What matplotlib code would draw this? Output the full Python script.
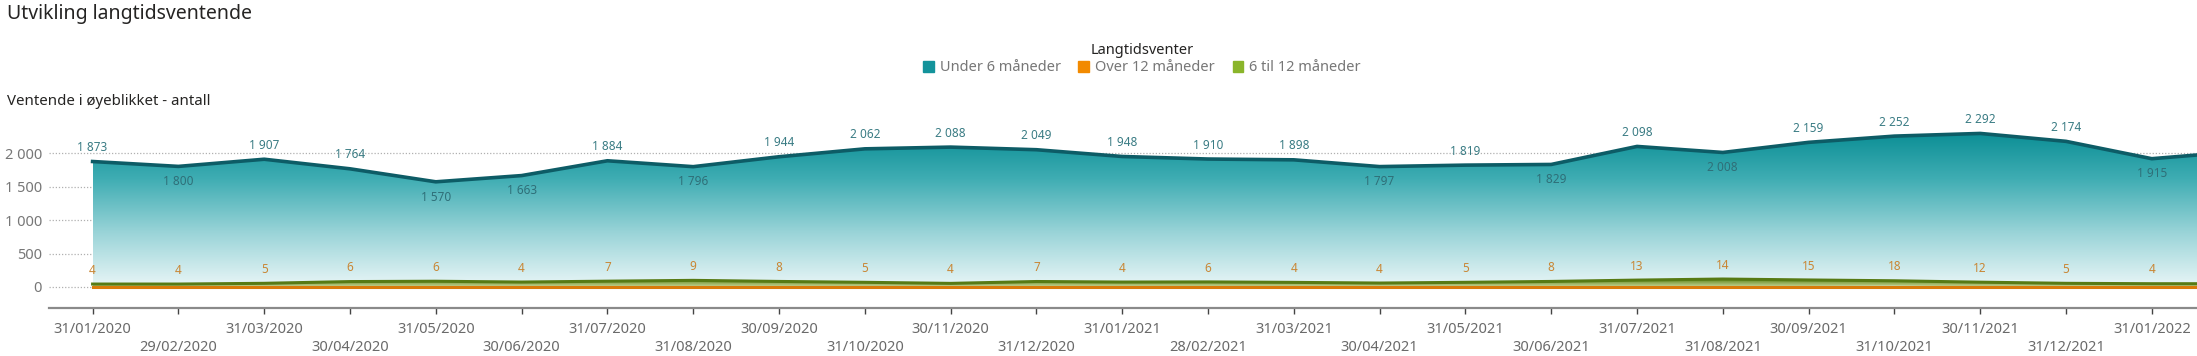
import numpy as np
import matplotlib
matplotlib.use("Agg")
import matplotlib.pyplot as plt
from matplotlib.colors import LinearSegmentedColormap
from matplotlib.patches import Patch

plt.rcParams['font.family'] = ['Noto Sans', 'DejaVu Sans']

# data
dates = ['31/01/2020', '29/02/2020', '31/03/2020', '30/04/2020', '31/05/2020', '30/06/2020',
         '31/07/2020', '31/08/2020', '30/09/2020', '31/10/2020', '30/11/2020', '31/12/2020',
         '31/01/2021', '28/02/2021', '31/03/2021', '30/04/2021', '31/05/2021', '30/06/2021',
         '31/07/2021', '31/08/2021', '30/09/2021', '31/10/2021', '30/11/2021', '31/12/2021',
         '31/01/2022', '28/02/2022']
under_6 = [1873, 1800, 1907, 1764, 1570, 1663, 1884, 1796, 1944, 2062, 2088, 2049,
           1948, 1910, 1898, 1797, 1819, 1829, 2098, 2008, 2159, 2252, 2292, 2174,
           1915, 2020]
over_12 = [4, 4, 5, 6, 6, 4, 7, 9, 8, 5, 4, 7, 4, 6, 4, 4, 5, 8, 13, 14, 15, 18, 12, 5, 4, 4]
# 6-12 months has no labels in the picture, estimated from the band height
six_12 = [40, 40, 50, 75, 80, 70, 80, 90, 75, 65, 50, 75, 70, 70, 65, 55, 65, 75,
          90, 105, 90, 75, 60, 50, 45, 45]
labelled = 25           # last point is outside the visible area
below = [1, 4, 5, 7, 15, 17, 19, 24]   # teal labels drawn under the line

x = np.arange(len(dates))
u6 = np.array(under_6)
o12 = np.array(over_12)
s612 = o12 + np.array(six_12)

W, H = 2197, 356
fig = plt.figure(figsize=(W / 100, H / 100), dpi=100)
ax = fig.add_axes([49 / W, 1 - 308 / H, 1 - 49 / W, (308 - 120) / H])

step = 85.8
x0 = -(92.6 - 49) / step
x1 = x0 + (W - 49) / step
ymin = -(308 - 287) / 0.067
ymax = (287 - 120) / 0.067

# grid
for gy in [0, 500, 1000, 1500, 2000]:
    ax.axhline(gy, color='#b0b0b0', lw=0.9, ls=(0, (1, 1.5)), zorder=0)

# teal area with vertical gradient
teal_cmap = LinearSegmentedColormap.from_list(
    'teal', [(0, '#e9f6f7'), (0.35, '#9ad4d8'), (0.7, '#3fadb3'), (1.0, '#0b8e95')])
poly = ax.fill_between(x, 0, u6, color='none', lw=0)
grad = np.linspace(0, 1, 256).reshape(-1, 1)
im = ax.imshow(grad, cmap=teal_cmap, origin='lower', aspect='auto',
               extent=[x[0], x[-1], 0, 2300], zorder=1, interpolation='bilinear')
im.set_clip_path(poly.get_paths()[0], transform=ax.transData)
ax.plot(x, u6, color='#0d5c66', lw=2.6, zorder=4, solid_joinstyle='round')

# green band (6 til 12) stacked on orange
green_cmap = LinearSegmentedColormap.from_list('green', [(0, '#c9d89a'), (1, '#5f8418')])
gpoly = ax.fill_between(x, o12, s612, color='none', lw=0)
gim = ax.imshow(grad, cmap=green_cmap, origin='lower', aspect='auto',
                extent=[x[0], x[-1], 0, 110], zorder=2, interpolation='bilinear')
gim.set_clip_path(gpoly.get_paths()[0], transform=ax.transData)
ax.plot(x, s612, color='#577a14', lw=2.2, zorder=3)

# orange band (over 12)
ax.fill_between(x, 0, o12, color='#e8860f', lw=0, zorder=3)
ax.plot(x, o12 * 0, color='#d97b0a', lw=2.2, zorder=3)

# labels
for i in range(labelled):
    v = under_6[i]
    txt = f'{v:,}'.replace(',', ' ')
    if i in below:
        ax.annotate(txt, (x[i], v), xytext=(0, -11), textcoords='offset points',
                    ha='center', va='center', fontsize=8.5, color='#2f6f78', zorder=6)
    else:
        ax.annotate(txt, (x[i], v), xytext=(0, 10), textcoords='offset points',
                    ha='center', va='center', fontsize=8.5, color='#3a7c84', zorder=6)
    ax.annotate(str(over_12[i]), (x[i], s612[i]), xytext=(0, 10), textcoords='offset points',
                ha='center', va='center', fontsize=8.5, color='#c98634', zorder=6)

# axes
for s in ['top', 'right', 'left']:
    ax.spines[s].set_visible(False)
ax.spines['bottom'].set_color('#8a8a8a')
ax.spines['bottom'].set_linewidth(1.6)
ax.set_yticks([0, 500, 1000, 1500, 2000])
ax.set_yticklabels(['0', '500', '1 000', '1 500', '2 000'])
ax.tick_params(axis='y', length=0, pad=5, labelsize=10.5, labelcolor='#777777')
ax.set_xticks(x)
ax.set_xticklabels([d if i % 2 == 0 else '\n' + d for i, d in enumerate(dates)])
ax.tick_params(axis='x', length=4, width=1.0, color='#444444', labelsize=10.5,
               labelcolor='#6a6a6a', pad=6)
for lab in ax.get_xticklabels():
    lab.set_linespacing(1.25)
# set limits after the ticks, last month lies just past the right edge
ax.set_xlim(x0, x1)
ax.set_ylim(ymin, ymax)

# titles
fig.text(7 / W, 1 - 14 / H, 'Utvikling langtidsventende', fontsize=14, color='#252423',
         va='center', ha='left')
fig.text(7 / W, 1 - 102 / H, 'Ventende i øyeblikket - antall', fontsize=10.8,
         fontweight='bold', color='#252423', va='center', ha='left')

handles = [Patch(color='#13939b'), Patch(color='#f28a00'), Patch(color='#8ab52a')]
leg = fig.legend(handles, ['Under 6 måneder', 'Over 12 måneder', '6 til 12 måneder'],
                 ncol=3, loc='center', bbox_to_anchor=(1142 / W, 1 - 59 / H), frameon=False,
                 title='Langtidsventer', fontsize=10.5, handlelength=0.75, handleheight=0.75,
                 handletextpad=0.4, columnspacing=1.2, borderpad=0, labelspacing=0.2)
for t in leg.get_texts():
    t.set_color('#777777')
leg.get_title().set_fontweight('bold')
leg.get_title().set_fontsize(10.5)
leg.get_title().set_color('#252423')
leg._legend_box.sep = 2

fig.savefig('out.png', dpi=100)
